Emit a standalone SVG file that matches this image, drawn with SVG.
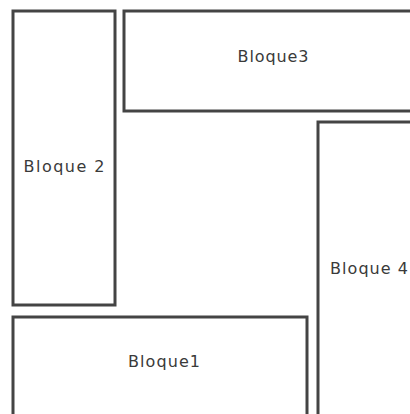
<svg xmlns="http://www.w3.org/2000/svg" width="410" height="414" viewBox="0 0 410 414">
<style>
.b{fill:#fff;stroke:#444;stroke-width:3}
.t{font-family:"DejaVu Sans","Liberation Sans",sans-serif;font-size:16px;fill:#3a3a3a;text-anchor:middle}
</style>
<rect width="410" height="414" fill="#fff"/>
<g id="bloque2"><rect class="b" x="13" y="11" width="102" height="294"/><text class="t" x="64" y="172" textLength="81" lengthAdjust="spacing">Bloque 2</text></g>
<g id="bloque3"><rect class="b" x="124" y="11" width="300" height="100"/><text class="t" x="273" y="62" textLength="71" lengthAdjust="spacing">Bloque3</text></g>
<g id="bloque4"><rect class="b" x="318" y="122" width="100" height="310"/><text class="t" x="369" y="274" textLength="78" lengthAdjust="spacing">Bloque 4</text></g>
<g id="bloque1"><rect class="b" x="13" y="317" width="294" height="110"/><text class="t" x="164" y="367" textLength="72" lengthAdjust="spacing">Bloque1</text></g>
<g id="connectors"/>
</svg>
